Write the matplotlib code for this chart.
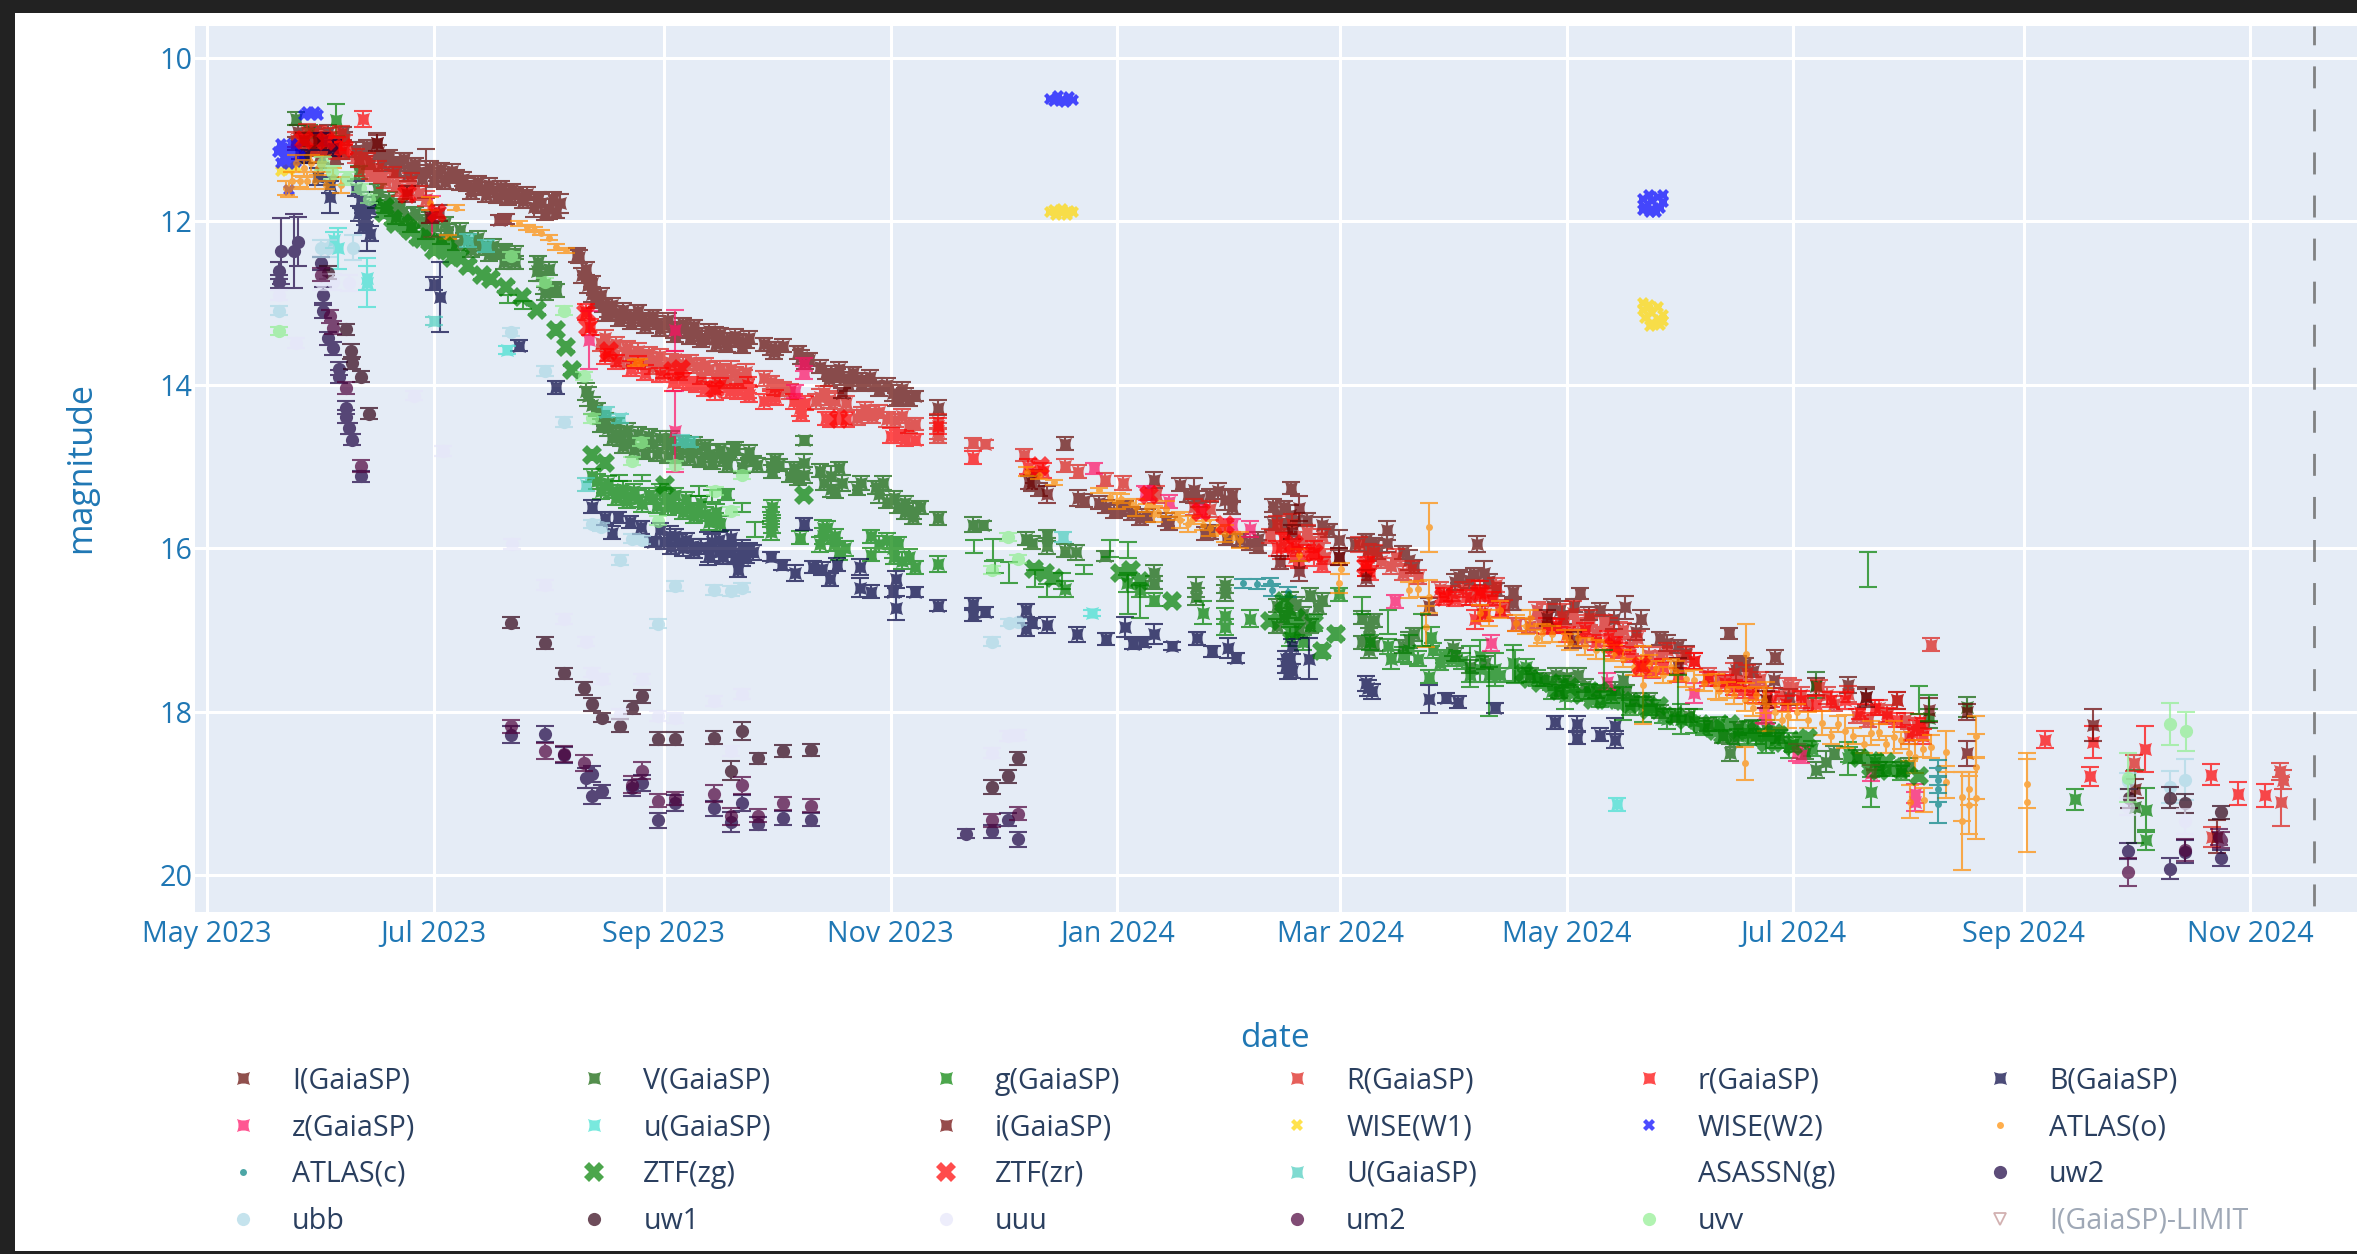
import numpy as np
from matplotlib import pyplot as plt
from matplotlib.artist import Artist, allow_rasterization
from matplotlib.lines import Line2D
from matplotlib.path import Path
from matplotlib.patches import Rectangle
import matplotlib.dates as mdates

# every series: (days since 2023-05-01, magnitude, error)
I_pts = [(24,11.05,.08),(26,10.98,.08),(28,11.12,.08),(30,10.95,.08),(32,11.1,.08),(34,11.0,.08),(36,11.15,.08),(37,10.98,.08),
    (40,11.12,.09),(42,11.16,.08),(45.7,11.04,.12),(48,11.22,.08),(50,11.29,.08),(52,11.3,.08),(55,11.36,.08),(57,11.39,.08),(59,11.41,.3),
    (62,11.42,.08),(65,11.44,.08),(67,11.45,.08),(70,11.55,.08),(72,11.58,.08),(74,11.6,.08),(77,11.62,.08),(80.5,11.65,.08),(83,11.68,.08),
    (84.7,11.7,.08),(88,11.82,.12),(90,11.78,.12),(92,11.85,.12),(95,11.78,.12),(99.6,12.41,.08),(100,12.43,.08),(101,12.66,.09),(102.5,12.78,.09),
    (103.7,12.89,.09),(105,12.97,.08),(106.5,13.03,.08),(108,13.09,.08),(110,13.12,.08),(112.5,13.16,.08),(115,13.16,.08),(117,13.2,.08),(119,13.23,.08),
    (121,13.24,.08),(123,13.27,.08),(125.8,13.33,.1),(127.5,13.32,.08),(129.5,13.34,.08),(132,13.38,.08),(134,13.42,.08),(136.7,13.44,.15),(139,13.45,.08),
    (141,13.44,.08),(143,13.46,.08),(145,13.47,.08),(151.7,13.55,.08),(153,13.56,.08),(160,13.66,.09),(162,13.69,.08),(166.7,13.85,.08),(168,13.86,.09),(169.5,13.88,.08),
    (171.5,13.92,.08),(175,13.93,.08),(177.5,13.97,.08),(180,14.0,.08),(184.7,14.1,.1),(186,14.16,.08),(188,14.12,.08),(190.7,14.14,.06),(196.7,14.28,.09),
    (222,15.2,.1),(231,14.72,.08),(234.5,15.38,.1),(236,15.42,.08),(242,15.49,.08),(246,15.53,.08),(249,15.57,.08),(254.9,15.16,.1),(258,15.65,.08),
    (259,15.7,.08),(265.7,15.29,.15),(267,15.4,.1),(268.7,15.82,.08),(272,15.3,.1),(274,15.41,.12),(274.5,15.88,.08),(280.7,15.94,.08),(291.9,15.26,.07),
    (288,15.6,.1),(291.5,15.59,.12),(296,15.65,.08),(300,15.72,.1),(304.7,15.9,.12),(304.7,16.1,.1),(317.6,15.78,.12),(317.6,15.94,.1),(312.5,16.02,.14),
    (323.6,16.14,.12),(328.8,16.71,.1),(336,16.41,.1),(339.6,16.39,.1),(341.8,15.95,.1),(343.8,16.3,.15),(351.6,16.54,.08),(351.6,16.67,.08),(364.2,16.75,.1),
    (369.6,16.55,.07),(378.6,16.87,.12),(381.7,16.72,.14),(385.9,16.87,.12),(384.7,17.02,.1),(393,17.16,.1),(409.7,17.04,.07),(411.6,17.49,.15),
    (422,17.33,.09),(421.8,17.61,.1),(433,17.69,.1),(425.8,17.82,.1),(441.6,17.67,.1),(446.6,17.82,.1),(455,17.86,.1)]
I_more = [(d,m,.08) for d,m in [(24.5,10.9),(26.5,11.2),(28.5,10.92),(30.5,11.2),(32.5,10.9),(34.5,11.22),(36.5,10.92),(25,11.15),(41,11.25),(43,11.08),(44,11.28),(46,11.15),(47,11.3),(49,11.2),
    (51,11.38),(53,11.24),(54,11.42),(56,11.3),(58,11.48),(60,11.34),(61,11.5),(63,11.36),(64,11.52),(66,11.38),(68,11.54),(69,11.48),(71,11.64),(73,11.52),(75,11.68),(76,11.55),(78,11.7),(79,11.58),
    (81,11.72),(82,11.62),(85,11.75),(86,11.66),(89,11.72),(91,11.9),(93,11.72),(94,11.88),(102,12.58),(103.5,12.75),(104.5,12.98),(106,12.9),(107.5,13.14),(109,13.02),(111,13.2),(112,13.08),(114,13.24),
    (116,13.1),(118,13.28),(120,13.16),(122,13.32),(124,13.2),(126,13.4),(128,13.26),(130,13.42),(131,13.28),(133,13.46),(135,13.34),(137,13.5),(138,13.38),(140,13.52),(142,13.4),(144,13.53),(146,13.42),
    (150,13.5),(152.5,13.6),(155,13.52),(159,13.6),(161,13.72),(165,13.78),(167.5,13.93),(170,13.8),(172.5,14.0),(174,13.86),(176,14.0),(178.5,13.9),(181,14.06),(183,14.0),(185.5,14.18),(187,14.05),(189,14.18),
    (222.5,15.12),(224,15.28),(240,15.44),(244,15.55),(247,15.5),(251,15.63),(253,15.6),(262,15.22),(264,15.35),(270,15.35),(276,15.5),(276,15.35),(270,15.8),(278,15.9),(283,15.88),(283,15.98),
    (287,15.48),(290,15.5),(293,15.65),(287,15.7),(290,15.72),(302,15.78),(309,15.95),(312,15.9),(314,15.95),(315,16.05),(322,16.05),(325,16.22),(337,16.35),(345,16.4),(347,16.5),(341,16.32),
    (362,16.7),(365,16.85),(368,16.7),(372,16.8),(375,16.75),(391,17.1),(396,17.2),(398,17.28),(412,17.4),(414,17.42),(416,17.5)]]
V_pts = [(24,10.74,.08),(27.5,10.9,.08),(41,11.4,.08),(45.5,11.74,.1),(50,11.85,.08),(53.8,11.94,.1),(58,12.0,.08),(61,12.06,.12),(65,12.12,.09),(69.2,12.23,.09),
    (72,12.28,.08),(74.4,12.33,.08),(78,12.38,.08),(81.6,12.43,.09),(88.8,12.61,.12),(90.8,12.76,.13),(94,12.84,.08),(101.9,14.08,.1),(102.5,14.14,.12),(103.7,14.25,.1),
    (106,14.4,.08),(108,14.53,.1),(110,14.6,.1),(111.5,14.63,.12),(114,14.67,.1),(117.5,14.71,.1),(120,14.72,.1),(123.5,14.73,.1),(126,14.76,.08),(129.5,14.78,.1),(132,14.8,.08),
    (135.5,14.84,.1),(139,14.91,.08),(141,14.82,.1),(145,14.89,.1),(147,14.93,.06),(151.7,14.99,.08),(154,14.98,.07),(157,15.11,.08),(160.8,14.96,.12),(160.8,14.68,.06),(160.8,15.1,.1),
    (167.9,15.27,.1),(167.9,15.11,.12),(171,15.2,.1),(175,15.27,.08),(181,15.34,.1),(182,15.2,.08),(186,15.49,.08),(188,15.56,.08),(190,15.54,.1),(196.7,15.63,.08),(206.3,15.71,.09),(209,15.72,.05),
    (220.5,15.88,.08),(222,15.93,.08),(226,15.97,.1),(226,15.84,.07),(231,16.03,.08),(234,16.05,.09),(241.7,16.09,.06),(254.9,16.3,.1),(254.9,16.42,.08),
    (266.3,16.47,.12),(266.3,16.59,.1),(274,16.45,.1),(274,16.55,.1),(291.5,16.63,.1),(291.5,16.75,.1),(296.9,16.57,.08),(300,16.63,.08),(312.9,16.96,.12),(312.9,17.08,.1),(312.9,17.24,.1),
    (323.4,17.12,.1),(335.4,17.22,.1),(366,17.57,.1),(381,17.61,.1),(409.9,18.5,.1),(433,17.67,.16),(433,18.71,.1),(435.9,18.61,.13),(463.6,18.08,.12),(473.7,17.94,.12),(519,19.16,.45)]
V_more = [(d,m,.08) for d,m in [(105,14.3),(106,14.5),(107,14.42),(109,14.65),(110,14.48),(112,14.75),(113,14.55),(115,14.8),(116,14.6),(118,14.83),(119,14.62),(121,14.85),(122,14.65),(124,14.87),(125,14.65),
    (127,14.88),(128,14.7),(130,14.9),(131,14.72),(133,14.93),(134,14.75),(136,14.95),(138,14.8),(140,14.98),(142,14.78),(144,15.0),(146,14.82),(148,14.98),(46,11.62),(48,11.82),(49,11.72),(51,11.95),(52,11.8),
    (55,12.05),(56,11.9),(59,12.13),(60,11.97),(63,12.2),(64,12.02),(67,12.27),(68,12.1),(71,12.35),(73,12.2),(76,12.4),(77,12.3),(80,12.5),(80,12.35),(83,12.5),(83,12.38),(89,12.5),(90,12.65),(92,12.58),(93,12.82),(91,12.88),
    (152,15.06),(153,14.92),(158,15.02),(159,15.15),(165,15.05),(166,15.2),(169,15.3),(170,15.02),(176,15.2),(180,15.25),(183,15.43),(185,15.38),(188,15.44),(190,15.62),(192,15.5),
    (288,16.7),(290,16.85),(293,16.68),(295,16.8),(288,16.95),(294,17.0),(297,16.95),(299,16.72),(311,16.85),(314,16.88),(311,17.15),(314,17.18),(322,17.2),(325,17.05),(336,17.3),(340,17.45),(344,17.4),
    (356,17.55),(360,17.6),(363,17.55),(364,17.75),(367,17.62),(369,17.55),(371,17.68),(374,17.75),(379,17.72),(382,17.75),(384,17.85),(388,17.85),(391,18.0),(395,18.05),(399,18.05),(404,18.15),(408,18.3),
    (411,18.35),(412,18.2),(416,18.18),(420,18.22),(423,18.3),(430,18.5),(438,18.5),(444,18.55),(450,18.7),(456,18.7),(458,18.65)]]
g_pts = [(34.7,10.76,.2),(103.7,15.11,.08),(107,15.24,.08),(109,15.3,.08),(111.5,15.34,.08),(114,15.36,.08),(116,15.39,.1),(120,15.38,.08),(123.5,15.39,.12),(125,15.43,.1),(127,15.49,.08),(130,15.52,.08),
    (132,15.54,.08),(134,15.58,.08),(136.7,15.65,.08),(139.7,15.34,.07),(151.7,15.58,.08),(151.7,15.65,.09),(151.7,15.8,.1),(159.7,15.87,.08),(165.7,15.75,.1),(165.7,15.85,.1),(168.7,15.95,.08),
    (171.7,16.0,.09),(178.7,15.85,.08),(181,15.95,.1),(178.7,16.08,.08),(184.7,16.0,.12),(187,16.15,.1),(190.7,16.23,.08),(196.7,16.19,.1),(231,16.5,.1),(247.6,16.43,.1),(251,16.51,.09),
    (254.9,16.63,.08),(268,16.79,.14),(274,16.83,.1),(274,16.96,.1),(280.7,16.86,.1),(291.5,17.08,.12),(304.7,16.56,.08),(318.6,17.36,.12),(323.4,17.24,.18),(328.8,17.57,.08),(329.4,17.08,.12),
    (333,17.32,.08),(337.8,17.38,.1),(342.6,17.32,.2),(342.6,17.48,.15),(346.8,17.48,.2),(351.6,17.4,.22),(358,17.59,.1),(365.5,17.81,.15),(368,17.77,.1),(386.5,17.97,.15),
    (393,18.09,.12),(396.7,18.09,.18),(400.3,18.11,.15),(414.7,18.26,.15),(419.5,18.3,.2),(425.8,18.41,.15),(441.6,18.57,.2),(447.8,18.98,.18),(502.9,19.07,.13),(521.8,19.2,.27),(521.8,19.57,.12)]
g_more = [(d,m,.09) for d,m in [(105,15.18),(106,15.3),(108,15.2),(110,15.38),(112,15.27),(113,15.42),(115,15.3),(117,15.46),(119,15.35),(121,15.48),(122,15.3),(124,15.5),(126,15.35),(128,15.55),(129,15.4),(131,15.6),
    (133,15.45),(135,15.68),(137,15.55),(138,15.7),(152,15.72),(152,15.5),(165,15.95),(167,15.75),(169,15.85),(170,16.05),(183,15.9),(185,16.1),(186,15.95),(189,16.1),(295,17.15),(313,17.15),(318,17.2),(322,17.3),
    (326,17.35),(330,17.25),(332,17.4),(335,17.35),(340,17.55),(345,17.55),(348,17.55),(353,17.55),(355,17.45),(362,17.75),(365,17.65),(372,17.75),(375,17.85),(378,17.8),(383,17.95),(389,17.95),(392,18.05),(403,18.2),
    (407,18.15),(412,18.3),(417,18.3),(422,18.35),(427,18.4),(432,18.45),(442,18.52),(449,18.62),(452,18.7),(456,18.75)]]
R_pts = [(25,11.0,.08),(28,10.95,.08),(31,11.02,.08),(34,11.05,.08),(37,11.02,.08),(41,11.25,.08),(44,11.4,.08),(47,11.45,.08),(51,11.55,.08),(54,11.6,.08),(106,13.49,.1),(109,13.55,.08),(112.7,13.6,.12),(115,13.62,.08),
    (117.5,13.65,.08),(121,13.69,.08),(124.7,13.72,.1),(128,13.74,.08),(131.9,13.77,.08),(135,13.8,.08),(139,13.85,.1),(142,13.86,.08),(144.5,13.9,.08),(151.7,13.97,.08),(155,14.05,.08),
    (165,14.15,.1),(167.3,14.18,.1),(169,14.2,.1),(176.3,14.35,.08),(178.5,14.34,.08),(181,14.33,.08),(185.3,14.43,.08),(190.7,14.48,.07),(196.7,14.56,.1),(206.3,14.71,.06),(209.3,14.72,.05),
    (220,14.86,.07),(231,14.99,.08),(234.5,15.06,.08),(241.7,15.16,.08),(246.5,15.2,.08),(255.5,15.34,.1),(265.7,15.49,.1),(270,15.52,.1),(289,15.98,.15),(292,15.7,.12),(295,15.9,.1),(299.3,15.98,.15),
    (312.5,16.1,.15),(318.6,16.22,.1),(341.4,16.51,.12),(346.2,16.59,.1),(343.2,16.79,.1),(352.2,16.93,.08),(360.6,16.83,.15),(364.8,16.83,.15),(367.8,16.79,.15),(372,16.95,.1),(377.5,17.0,.15),(380,17.05,.15),
    (396.7,17.36,.1),(400.3,17.38,.1),(411,17.52,.12),(414.5,17.53,.1),(425.6,17.69,.1),(429,17.8,.1),(436,17.8,.1),(441.6,17.78,.1),(452.3,18.02,.1),(455,17.86,.1),(460.2,18.18,.1),(464,17.18,.08),
    (518.6,18.63,.1),(539.8,19.53,.12),(558,18.73,.1),(558.9,18.83,.12),(558.2,19.1,.3)]
R_more = [(d,m,.09) for d,m in [(24,11.0),(26,11.1),(27,10.9),(29,11.1),(30,10.92),(32,11.12),(33,10.95),(35,11.15),(36,10.92),(37,11.15),(40,11.2),(42,11.35),(43,11.25),(45,11.42),(46,11.35),(48,11.5),(50,11.42),(52,11.6),
    (55,11.5),(57,11.65),(59,11.72),(107,13.42),(108,13.62),(110,13.5),(111,13.68),(113,13.55),(114,13.7),(116,13.58),(118,13.72),(119,13.62),(120,13.78),(122,13.65),(123,13.82),(126,13.68),(127,13.85),(130,13.72),
    (133,13.9),(134,13.76),(137,13.92),(138,13.8),(140,13.95),(141,13.8),(143,13.95),(145,13.84),(150,13.92),(153,14.03),(157,14.08),(164,14.2),(166,14.1),(172,14.22),(175,14.4),(177,14.3),(179,14.38),(183,14.42),
    (187,14.38),(189,14.5),(196.7,14.45),(196.7,14.62),(286,15.85),(288,15.7),(290,15.85),(293,16.0),(296,15.8),(298,15.95),(300,15.85),(301,16.1),(310,15.95),(312,16.25),(314,16.05),(316,16.15),(320,16.1),(322,16.3),
    (324,16.25),(326,16.35),(332,16.5),(335,16.55),(338,16.5),(340,16.6),(344,16.55),(347,16.45),(349,16.72),(356,16.95),(358,16.75),(359,16.9),(362,16.95),(365,16.95),(369,16.9),(370,17.1),(372,16.85),(374,17.05),
    (376,16.9),(379,17.1),(381,17.0),(383,17.2),(385,17.1),(388,17.3),(391,17.3),(393,17.25),(398,17.3),(404,17.55),(407,17.6),(410,17.6),(413,17.65),(416,17.7),(418,17.6),(420,17.8),(423,17.8),(427,17.7),(431,17.9),
    (434,17.7),(438,17.9),(444,18.05),(447,18.1),(450,17.95),(457,18.1),(458,18.3),(462,18.2)]]
r_pts = [(41.9,10.75,.1),(30,11.0,.08),(35,11.05,.08),(102,13.11,.1),(103,13.29,.1),(116,13.75,.1),(125.3,13.97,.1),(130,13.98,.08),(136.7,14.05,.14),(140.9,14.08,.08),(145.7,14.0,.1),(145.7,14.08,.08),
    (151.7,14.15,.08),(159.5,14.28,.1),(166.5,14.41,.08),(185.9,14.63,.08),(190.7,14.67,.07),(196.7,14.5,.1),(206.3,14.89,.08),(291,15.98,.15),(292.6,16.1,.12),(298,16.06,.15),(311.9,16.22,.12),
    (333,16.59,.1),(342.6,16.55,.15),(341.4,16.87,.12),(360.6,16.95,.1),(378.6,17.2,.12),(385.9,17.44,.12),(400.3,17.38,.1),(408.7,17.65,.1),(413.5,17.73,.1),(429,17.85,.1),(441,17.86,.1),
    (452.3,18.05,.1),(460.2,18.22,.12),(494.8,18.34,.1),(507.6,18.37,.2),(506.8,18.79,.12),(521.7,18.46,.28),(539.5,18.77,.13),(546.8,19.0,.14),(553.9,19.02,.14)]
r_more = [(d,m,.09) for d,m in [(107,13.65),(110,13.72),(114,13.8),(118,13.85),(122,13.88),(128,13.95),(132,14.0),(134,14.05),(138,14.0),(143,14.08),(146,14.12),(150,14.2),(153,14.15),(158,14.2),(160,14.35),(161,14.22),
    (168,14.42),(172,14.42),(184,14.62),(188,14.66),(221,15.0),(225,15.05),(288,16.0),(290,15.9),(294,16.15),(296,16.05),(300,16.2),(313,16.3),(336,16.62),(339,16.6),(346,16.62),(348,16.75),(344,16.8),(363,16.95),
    (366,17.05),(371,17.0),(374,17.15),(377,17.1),(380,17.25),(383,17.3),(389,17.5),(392,17.45),(396,17.55),(404,17.6),(411,17.7),(416,17.8),(421,17.85),(425,17.9),(433,17.9),(437,17.85),(445,18.0),(449,17.95),(455,18.1),
    (459,18.25),(461,18.12),(462,18.3)]]
B_pts = [(26,11.2,.08),(30,11.45,.1),(33,11.7,.2),(33,11.55,.1),(34,11.1,.1),(31,11.02,.1),(41.4,11.74,.1),(42,11.8,.1),(42.4,11.94,.1),(43,12.06,.3),(61,12.76,.08),(62.8,12.92,.43),
    (84,13.52,.07),(94,14.03,.08),(103.7,15.49,.08),(107.2,15.63,.08),(110.5,15.62,.07),(113.9,15.68,.07),(116.9,15.74,.08),(109,15.81,.08),(120,15.92,.06),(124.7,15.85,.12),(127,15.92,.1),
    (130.7,15.97,.08),(134.9,16.0,.2),(137.9,15.9,.1),(141,15.87,.09),(137.9,16.05,.1),(143.9,16.0,.1),(145,16.1,.08),(143,16.26,.09),(151.7,16.1,.06),(154.7,16.2,.06),(158.3,16.3,.1),
    (160.7,15.7,.07),(163,16.23,.07),(165.5,16.25,.08),(167.7,16.38,.08),(169.7,16.2,.08),(175.7,16.23,.1),(175.7,16.48,.12),(178.7,16.53,.08),(184.7,16.53,.07),(185.4,16.38,.1),(185.4,16.73,.15),
    (190.5,16.53,.06),(196.7,16.7,.07),(206.3,16.68,.07),(206.3,16.81,.08),(209.3,16.78,.06),(220.5,16.76,.08),(220.5,16.99,.08),(222,16.91,.06),(226,16.94,.1),(234.3,17.05,.09),(242,17.11,.07),
    (247,16.96,.12),(249.3,17.17,.06),(252,17.15,.06),(255,17.05,.12),(259.8,17.2,.05),(266.5,17.1,.08),(270.5,17.26,.07),(274.7,17.22,.12),(276.9,17.34,.06),(291.5,17.34,.08),(290.3,17.44,.08),(290.9,17.52,.08),
    (296.7,17.35,.25),(312.5,17.71,.1),(329,17.84,.17),(333.6,17.83,.06),(336.6,17.88,.07),(346.8,17.95,.06),(362.8,18.13,.08),(368.8,18.15,.1),(368.8,18.32,.08),(375,18.28,.08),(378.9,18.17,.1),(378.9,18.34,.1)]
B_more = [(d,m,.09) for d,m in [(40,11.6),(41,11.9),(42,12.05),(44,12.15),(44,11.85),(122,15.78),(123,15.92),(125,15.98),(126,15.85),(128,16.0),(129,15.9),(131,16.03),(133,15.98),(135,16.08),(136,15.92),(139,16.0),(139,16.1),
    (141,16.02),(142,16.1),(144,16.12),(146,16.02),(147,16.05),(292,17.2),(290.5,17.35),(292,17.5),(312,17.65),(313.5,17.75)]]
z_pts = [(60.5,11.94,.25),(102.7,13.45,.35),(125.9,13.33,.25),(125.9,14.57,.5),(160.7,13.75,.08),(160.7,13.85,.08),(158.3,14.08,.08),(238.7,15.02,.07),(252.4,15.32,.08),(253,15.33,.08),(259,15.43,.08),
    (267.5,15.55,.08),(275.9,15.72,.08),(280.7,15.76,.1),(319.8,16.65,.08),(345.6,17.16,.1),(376.9,17.63,.1),(400.3,17.77,.12),(419,18.02,.12),(419.5,18.05,.1),(428,18.5,.1),(429,18.53,.1),
    (447.8,18.75,.1),(459.6,19.0,.12),(459.6,19.1,.12)]
u_pts = [(34.2,12.23,.1),(35.2,12.33,.25),(43,12.69,.15),(43,12.75,.3),(80.8,13.57,.05),(238.1,16.79,.04),(379.6,19.13,.08)]
i_pts = [(26,11.0,.08),(30,11.02,.08),(45.7,11.04,.1),(53.8,11.66,.1),(60,11.94,.08),(62.5,11.9,.1),(78.5,11.98,.06),(80.5,11.97,.06),(170.9,14.1,.06),(221.3,15.19,.08),(226,15.34,.1),(292,15.8,.08),
    (293.9,15.51,.15),(293.9,16.28,.12),(288.9,16.17,.08),(311.9,16.36,.1),(304.7,16.1,.1),(360.6,16.85,.1),(367.8,17.12,.1),(396,17.44,.1),(419.5,17.85,.1),(446.6,17.82,.12),(463.6,17.98,.15),
    (473.7,18.0,.1),(473.7,18.51,.15),(507.6,18.16,.2),(518.9,18.94,.12),(541,19.53,.2)]
W1_pts = [(20,11.38,.01),(22,11.37,.01),(24,11.33,.01),(227,11.89,.01),(228,11.86,.01),(228.5,11.92,.01),(230,11.9,.01),(230,11.85,.01),(231.5,11.92,.01),(232,11.87,.01),(233,11.89,.01),
    (386.5,13.08,.02),(388,13.02,.02),(389,13.12,.02),(390.5,13.05,.02),(392,13.14,.02),(387,13.18,.02),(389,13.24,.02),(391,13.2,.02),(388.5,13.28,.02),(391,13.27,.02),(386.5,13.0,.02),(392,13.22,.02)]
W2_pts = [(19,11.15,.01),(20,11.05,.01),(21,11.2,.01),(22,11.1,.01),(23,11.2,.01),(24,11.1,.01),(25,11.2,.01),(20,11.28,.01),(22,11.3,.01),(24,11.27,.01),(22,11.62,.01),(21,11.12,.01),(23,11.05,.01),(26,10.7,.01),(27,10.66,.01),(28,10.7,.01),(29,10.66,.01),(30,10.7,.01),
    (227,10.5,.01),(228,10.53,.01),(229,10.47,.01),(230,10.51,.01),(231,10.54,.01),(232,10.48,.01),(233,10.51,.01),
    (386.5,11.72,.01),(388,11.68,.01),(389,11.75,.01),(390.5,11.7,.01),(392,11.76,.01),(387,11.82,.01),(389,11.85,.01),(391,11.83,.01),(388.5,11.88,.01),(390,11.89,.01),(392,11.68,.01),(386.5,11.86,.01)]
o_pts = [(21.3,11.59,.08),(23.9,11.29,.1),(25,11.51,.07),(28,11.29,.1),(30,11.35,.08),(32,11.55,.05),(60,11.78,.08),(65,12.19,.03),(67.1,11.83,.03),(84,12.02,.03),(86,12.07,.03),(88,12.1,.03),
    (89.8,12.14,.03),(92,12.2,.03),(94,12.31,.04),(96.5,12.35,.03),(115.6,13.73,.04),(116.3,13.72,.04),(220.7,15.06,.05),(224,15.1,.05),(228,15.19,.03),(240,15.29,.03),(243,15.37,.05),(246,15.39,.05),
    (248.8,15.45,.05),(253,15.51,.05),(256,15.56,.05),(260.9,15.61,.04),(265,15.65,.05),(268,15.72,.05),(272,15.78,.05),(276.5,15.86,.03),(294,16.08,.07),(305.3,16.25,.07),(304.7,16.43,.12),
    (323.4,16.51,.1),(328.8,15.74,.3),(328.8,16.59,.2),(328.2,16.96,.25),(326,16.5,.1),(342.6,16.79,.1),(352.2,16.91,.1),(356,16.85,.1),(359.4,17.04,.12),(365.4,17.1,.1),(369,17.1,.1),(373.8,17.24,.12),
    (378.6,17.28,.1),(386.5,17.44,.1),(386.5,17.67,.48),(390,17.48,.1),(395.5,17.5,.12),(400.3,17.61,.12),(406.3,17.69,.15),(409,17.73,.1),(414.2,17.29,.36),(414,18.63,.2),(414,17.85,.14),(419,17.86,.15),
    (419.5,17.93,.3),(425.6,18.05,.15),(434.8,18.14,.15),(441,18.24,.2),(447.8,18.26,.15),(454,18.31,.2),(459.6,18.55,.2),(464.1,18.43,.14),(468,18.49,.25),(462.2,19.08,.15),(458.3,19.1,.2),
    (468,18.86,.2),(472.3,19.34,.6),(474.3,19.14,.36),(476.2,19.06,.5),(476.2,18.3,.25),(476.2,18.67,.4),(472.3,19.04,.3),(474.3,18.94,.2),(490,18.88,.3),(490,19.11,.6)]
o_more = [(d,m,.1) for d,m in [(22,11.6),(23,11.5),(26,11.35),(27,11.5),(29,11.5),(31,11.3),(34,11.45),(36,11.55),(245,15.42),(250,15.5),(255,15.58),(258,15.52),(262,15.65),(264,15.7),(270,15.75),(274,15.82),(278,15.9),
    (345,16.85),(348,16.75),(355,16.95),(358,17.1),(362,17.05),(367,17.15),(371,17.2),(376,17.25),(381,17.35),(384,17.45),(388,17.4),(392,17.55),(394,17.45),(398,17.6),(403,17.65),(407,17.75),(411,17.8),(416,17.95),
    (417,17.8),(422,18.0),(424,18.1),(428,18.0),(431,18.1),(437,18.3),(439,18.15),(443,18.3),(446,18.4),(450,18.25),(452,18.4),(456,18.35),(458,18.5),(462,18.45)]]
c_pts = [(278.9,16.43,.06),(282.5,16.44,.06),(286,16.41,.05),(286.7,16.51,.07),(290.9,16.53,.06),(466,18.69,.1),(466,18.84,.15),(466,18.95,.15),(466,19.13,.23)]
zg_pts = [(47.6,11.9,.06),(50,11.97,.05),(52.7,12.02,.05),(55,12.12,.05),(56.8,12.19,.05),(60,12.25,.05),(62,12.31,.05),(65,12.36,.05),(68.2,12.43,.05),(70.2,12.55,.05),(74,12.65,.05),(76.4,12.71,.05),(80.5,12.8,.05),(84.7,12.92,.05),
    (88.8,13.08,.05),(94,13.33,.06),(96.5,13.53,.05),(98.2,13.82,.05),(103.7,14.86,.06),(107,14.96,.06),(123.3,15.22,.06),(160.8,15.35,.06),(222.5,16.25,.06),(225.5,16.3,.06),(228,16.36,.06),(259.7,16.65,.05),
    (245.8,16.3,.06),(248.8,16.26,.06),(251,16.4,.06),(286,16.89,.06),(290,16.8,.1),(292,16.9,.08),(298,16.91,.1),(300,17.26,.08),(304,17.05,.07),(354.6,17.52,.06),(361.8,17.65,.08),(376.9,17.85,.07),
    (381,17.87,.08),(390.7,17.93,.06),(406.3,18.24,.06),(409.9,18.15,.06),(414.5,18.24,.06),(419,18.33,.06),(421.8,18.26,.06),(424.3,18.38,.06),(429,18.35,.06),(445,18.57,.06),(447.8,18.67,.06),(454,18.67,.06),(460.7,18.79,.06)]
zg_more = [(d,m,.06) for d,m in [(356,17.6),(359,17.65),(364,17.75),(367,17.7),(370,17.8),(373,17.85),(375,17.75),(379,17.82),(383,17.9),(386,17.88),(388,17.98),(395,18.05),(398,18.1),(402,18.15),(405,18.2),(408,18.28),(412,18.22),
    (416,18.28),(420,18.38),(423,18.28),(427,18.42),(431,18.32),(448,18.6),(450,18.72),(452,18.62),(456,18.7),(292,17.0),(290,16.65),(293,16.85),(48,11.82),(51,12.03),(54,12.08),(58,12.22),(61,12.35),(64,12.3),(66,12.45)]]
zr_pts = [(26,11.0,.06),(32,11.02,.06),(37,11.1,.06),(53.8,11.66,.06),(62,11.9,.06),(102,13.12,.06),(102.6,13.29,.06),(108.3,13.59,.06),(125.3,13.83,.06),(127.7,13.81,.06),(136.7,14.05,.06),(170,14.42,.06),
    (224.3,14.99,.06),(253.6,15.35,.06),(267.5,15.55,.06),(274,15.72,.06),(292.5,15.95,.06),(298,16.06,.06),(311.9,16.22,.06),(333,16.59,.06),(342.6,16.55,.06),(378.6,17.2,.06),(385.9,17.44,.06)]
U_pts = [(61,13.22,.05),(70.2,12.23,.08),(75,12.3,.07),(102,15.22,.08),(107.3,14.33,.06),(111.2,14.41,.06),(127.7,14.67,.06),(130,14.7,.06),(230.3,15.86,.06)]
asassn_pts = [(81,12.95,.05),(85,13.02,.05),(136,15.36,.07),(117,15.14,.04),(111,15.14,.04),(132.5,15.3,.06),(147.5,15.77,.09),(144,15.5,.05),(206.5,15.98,.08),(211.5,16.02,.13),(212,16.22,.08),(216,16.3,.13),
    (223,16.37,.1),(226,16.52,.08),(230,16.4,.1),(236,16.26,.06),(243,16.0,.1),(248,16.02,.1),(248,16.55,.25),(251,16.65,.2),(311,16.7,.1),(318,16.9,.15),(327,17.0,.2),(340,17.45,.25),
    (345,17.75,.3),(352,17.45,.2),(376,17.5,.25),(381,17.9,.2),(396,17.8,.25),(447,16.26,.21),(460.7,17.86,.17),(463.6,17.95,.16)]
uw2_pts = [(19.3,12.6,.1),(19.3,12.74,.08),(20,12.36,.4),(23.4,12.36,.45),(24.4,12.25,.3),(30.6,12.51,.08),(31.3,12.9,.1),(31.3,13.1,.08),(32.6,13.43,.08),(33.9,13.55,.08),(35.4,13.8,.08),(35.4,13.9,.08),(37.3,14.28,.08),(37.3,14.39,.08),
    (38.3,14.53,.07),(39.1,14.67,.07),(41.4,15.12,.07),(81.8,18.28,.1),(91,18.27,.1),(96,18.53,.1),(101.9,18.81,.12),(103.7,18.76,.1),(103.7,19.03,.1),(106.4,18.97,.08),(114.5,18.93,.1),(117,18.87,.1),
    (121.4,19.33,.09),(126,19.12,.1),(136.6,19.18,.09),(143.9,19.12,.1),(141,19.35,.12),(148.3,19.37,.08),(155,19.3,.08),(162.5,19.32,.08),(204.3,19.49,.06),(211.4,19.46,.08),(215.6,19.32,.08),
    (218.3,19.56,.09),(517,19.7,.1),(528.5,19.92,.13),(532.5,19.71,.14),(542,19.79,.1)]
ubb_pts = [(19.3,13.09,.06),(30.6,12.33,.1),(32.6,12.33,.1),(39.3,12.32,.15),(81.8,13.35,.05),(91.1,13.83,.06),(96,14.45,.06),(103.7,15.7,.05),(106,15.74,.05),(114.5,15.88,.05),(117,15.9,.05),(111.2,16.14,.06),
    (126,16.46,.06),(136.6,16.51,.06),(141,16.52,.06),(143.9,16.48,.06),(121.4,16.92,.06),(211.4,17.14,.06),(216,16.91,.04),(218.3,16.9,.04),(517,18.85,.1),(528.5,18.92,.2),(532.5,18.83,.25)]
uw1_pts = [(32.6,12.63,.08),(37.3,13.32,.07),(38.8,13.59,.09),(39.1,13.73,.07),(41.4,13.9,.07),(43.7,14.35,.07),(81.8,16.91,.07),(91,17.16,.07),(96,17.53,.07),(101.5,17.71,.08),(103.6,17.91,.08),(106.4,18.07,.05),
    (111.2,18.17,.08),(114.5,17.95,.08),(117,17.81,.08),(121.4,18.33,.08),(126,18.33,.08),(136.6,18.32,.08),(143.9,18.23,.11),(148.3,18.57,.07),(155,18.48,.07),(162.5,18.47,.07),(141,18.72,.12),
    (218.3,18.57,.08),(215.6,18.79,.08),(211.4,18.92,.08),(517.2,19.06,.12),(528.5,19.05,.13),(532.5,19.12,.12),(542,19.23,.08)]
uuu_pts = [(19.3,12.9,.06),(23.9,13.49,.06),(30.6,12.74,.1),(34,12.74,.1),(38.3,12.75,.1),(55.8,14.13,.06),(63.5,14.81,.06),(82,15.95,.06),(91,16.45,.06),(96,16.86,.06),(101.9,17.14,.06),(103.6,17.52,.06),
    (106.4,17.6,.06),(117,17.6,.06),(111.2,18.03,.06),(121.4,18.05,.06),(126,18.08,.06),(136.6,17.87,.06),(143.9,17.78,.06),(141,18.48,.06),(211.4,18.5,.06),(215.6,18.3,.06),(218.3,18.28,.06),
    (517,19.16,.1),(532.5,19.34,.15)]
um2_pts = [(30.6,12.65,.08),(33.2,13.16,.08),(34,13.3,.08),(37.3,14.04,.07),(41.4,14.99,.07),(81.8,18.18,.08),(91,18.48,.1),(96,18.52,.1),(101.5,18.63,.1),(114.5,18.89,.1),(117,18.72,.1),(121.4,19.09,.08),(126,19.06,.08),
    (136.6,19.0,.1),(143.9,18.9,.1),(141,19.28,.1),(148.3,19.27,.08),(155,19.12,.08),(162.5,19.15,.08),(211.4,19.33,.08),(218.3,19.25,.08),(517,19.96,.17),(532.5,19.69,.13),(542,19.57,.1),(541.5,19.53,.1)]
uvv_pts = [(19.3,13.34,.05),(31.3,11.29,.08),(33.7,11.4,.08),(37.8,11.47,.08),(41.1,11.59,.05),(43.7,11.72,.05),(81.8,12.42,.05),(91.1,12.74,.05),(96.2,13.09,.05),(101.6,13.89,.05),(103.7,14.41,.05),(116.9,14.7,.05),
    (114.3,14.93,.05),(126,14.98,.05),(143.9,15.1,.05),(136.7,15.3,.05),(141,15.54,.05),(121.3,15.66,.05),(215.6,15.86,.05),(218.3,16.13,.05),(211.4,16.27,.05),(528.5,18.15,.26),(532.6,18.24,.24),(517,18.81,.3)]

series_names = ['I(GaiaSP)', 'V(GaiaSP)', 'g(GaiaSP)', 'R(GaiaSP)', 'r(GaiaSP)', 'B(GaiaSP)',
                'z(GaiaSP)', 'u(GaiaSP)', 'i(GaiaSP)', 'WISE(W1)', 'WISE(W2)', 'ATLAS(o)',
                'ATLAS(c)', 'ZTF(zg)', 'ZTF(zr)', 'U(GaiaSP)', 'ASASSN(g)', 'uw2',
                'ubb', 'uw1', 'uuu', 'um2', 'uvv', 'I(GaiaSP)-LIMIT']
series_pts = [I_pts + I_more, V_pts + V_more, g_pts + g_more, R_pts + R_more, r_pts + r_more, B_pts + B_more,
              z_pts, u_pts, i_pts, W1_pts, W2_pts, o_pts + o_more,
              c_pts, zg_pts + zg_more, zr_pts, U_pts, asassn_pts, uw2_pts, ubb_pts, uw1_pts, uuu_pts, um2_pts, uvv_pts, []]
series_colors = ['#610602', '#0b6001', '#008000', '#dc1b14', '#ff0000', '#00003f',
                 '#ff0f64', '#40e0d0', '#6a0000', '#ffd700', '#0000ff', '#ff8c00',
                 '#008080', '#008000', '#ff0000', '#4bcdbe', '#008000', '#190040',
                 '#add8e6', '#2f0014', '#e6e6fa', '#4c003a', '#90ee90', '#802020']

TRACE_ALPHA = 0.7
FIG_W, FIG_H = 2357, 1254
AX_L, AX_T, AX_R, AX_B = 195, 26, 2357, 912

start = mdates.date2num(np.datetime64('2023-05-01'))

# plotly star-square marker
star_square = Path([(-1, -1), (0, -0.5), (1, -1), (0.5, 0), (1, 1), (0, 0.5), (-1, 1), (-0.5, 0), (-1, -1), (-1, -1)],
                   [Path.MOVETO, Path.CURVE3, Path.CURVE3, Path.CURVE3, Path.CURVE3, Path.CURVE3, Path.CURVE3,
                    Path.CURVE3, Path.CURVE3, Path.CLOSEPOLY])


def marker_style(name):
    if name.startswith('ZTF'):
        return 'X', 14.5
    if name.startswith('WISE'):
        return 'X', 8
    if name.startswith('ATLAS'):
        return 'o', 5
    if name == 'ASASSN(g)':
        return 'None', 0
    if name in ('uw2', 'ubb', 'uw1', 'uuu', 'um2', 'uvv'):
        return 'o', 9.5
    if 'LIMIT' in name:
        return 'v', 8
    return star_square, 9.5


# whole trace opacity, like plotly: draw opaque, then mix with what was there before
class Trace(Artist):
    def __init__(self, kids):
        super().__init__()
        self.kids = kids

    @allow_rasterization
    def draw(self, renderer):
        before = np.array(renderer.buffer_rgba(), dtype=float)
        for k in self.kids:
            k.set_visible(True)
            k.draw(renderer)
            k.set_visible(False)
        after = np.array(renderer.buffer_rgba(), dtype=float)
        mixed = before * (1 - TRACE_ALPHA) + after * TRACE_ALPHA
        mixed[..., 3] = 255
        gc = renderer.new_gc()
        renderer.draw_image(gc, 0, 0, mixed.astype(np.uint8)[::-1])
        gc.restore()


fig = plt.figure(figsize=(FIG_W / 100, FIG_H / 100), dpi=100)
plt.rcParams['font.family'] = ['Open Sans', 'DejaVu Sans']
ax = fig.add_axes([AX_L / FIG_W, 1 - AX_B / FIG_H, (AX_R - AX_L) / FIG_W, (AX_B - AX_T) / FIG_H])
ax.set_facecolor('#e5ecf6')

for i, (name, pts, col) in enumerate(zip(series_names, series_pts, series_colors)):
    if not pts:
        continue
    arr = np.array(pts)
    marker, ms = marker_style(name)
    cap = 3 if name.startswith('WISE') else 6.3
    cont = ax.errorbar(start + arr[:, 0], arr[:, 1], yerr=arr[:, 2], fmt='none',
                       ecolor=col, elinewidth=1.5, capsize=cap, capthick=1.5)
    kids = list(cont.lines[2]) + list(cont.lines[1])
    if ms:
        pts_line, = ax.plot(start + arr[:, 0], arr[:, 1], linestyle='none', marker=marker, ms=ms, color=col, mew=0)
        kids.append(pts_line)
    # children are only drawn through the trace
    for k in kids:
        k.set_visible(False)
    trace = Trace(kids)
    trace.set_zorder(3 + i)
    ax.add_artist(trace)

# dashed line for the current date
ax.axvline(start + 567, color='#6e6e6e', lw=2, linestyle=(13.3, (7.9, 7.6)), alpha=0.85, zorder=40)

ax.set_xlim(start - 3.23, start + 578.7)
ax.set_ylim(20.45, 9.608)
ax.xaxis.set_major_locator(mdates.MonthLocator(bymonth=[1, 3, 5, 7, 9, 11]))
ax.xaxis.set_major_formatter(mdates.DateFormatter('%b %Y'))
ax.set_yticks([10, 12, 14, 16, 18, 20])
ax.grid(True, color='white', lw=2.2)
ax.set_axisbelow(True)
for s in ax.spines.values():
    s.set_visible(False)
ax.tick_params(axis='both', length=0, labelsize=20.7, labelcolor='#1f77b4')
ax.tick_params(axis='y', pad=2)
ax.tick_params(axis='x', pad=5.5)
ax.set_xlabel('date', fontsize=24, color='#1f77b4')
ax.xaxis.set_label_coords(0.4995, -0.124)
ax.set_ylabel('magnitude', fontsize=24.5, color='#1f77b4')
ax.yaxis.set_label_coords(-0.045, 0.502)

# one legend per column so the columns sit at a fixed pitch
handles = []
for name, col in zip(series_names, series_colors):
    marker, ms = marker_style(name)
    if 'LIMIT' in name:
        handles.append(Line2D([], [], linestyle='none', marker=marker, ms=ms, mfc='none', mec=col, mew=1.3, alpha=0.35))
    elif ms == 0:
        handles.append(Line2D([], [], linestyle='none'))
    else:
        handles.append(Line2D([], [], linestyle='none', marker=marker, ms=ms, color=col, mew=0, alpha=TRACE_ALPHA))

LEG_FS = 20.6
for k in range(6):
    px = 243 - 14.3 + k * 351.4
    leg = fig.legend(handles[k::6], series_names[k::6], loc='upper left', bbox_to_anchor=(px / FIG_W, 1 - 1066.5 / FIG_H),
                     frameon=False, fontsize=LEG_FS, borderpad=0, borderaxespad=0, handlelength=1, handletextpad=1.21,
                     labelspacing=0.62, labelcolor='#2a3f5f', numpoints=1)
    for t in leg.get_texts():
        if 'LIMIT' in t.get_text():
            t.set_alpha(0.45)

# dark screenshot frame
for x0, y0, w, h in [(0, 0, FIG_W, 13), (0, 0, 15, FIG_H), (0, 1251, FIG_W, 3)]:
    fig.add_artist(Rectangle((x0 / FIG_W, 1 - (y0 + h) / FIG_H), w / FIG_W, h / FIG_H,
                             transform=fig.transFigure, color='#222222', lw=0, zorder=100))

fig.savefig('out.png', dpi=100)
